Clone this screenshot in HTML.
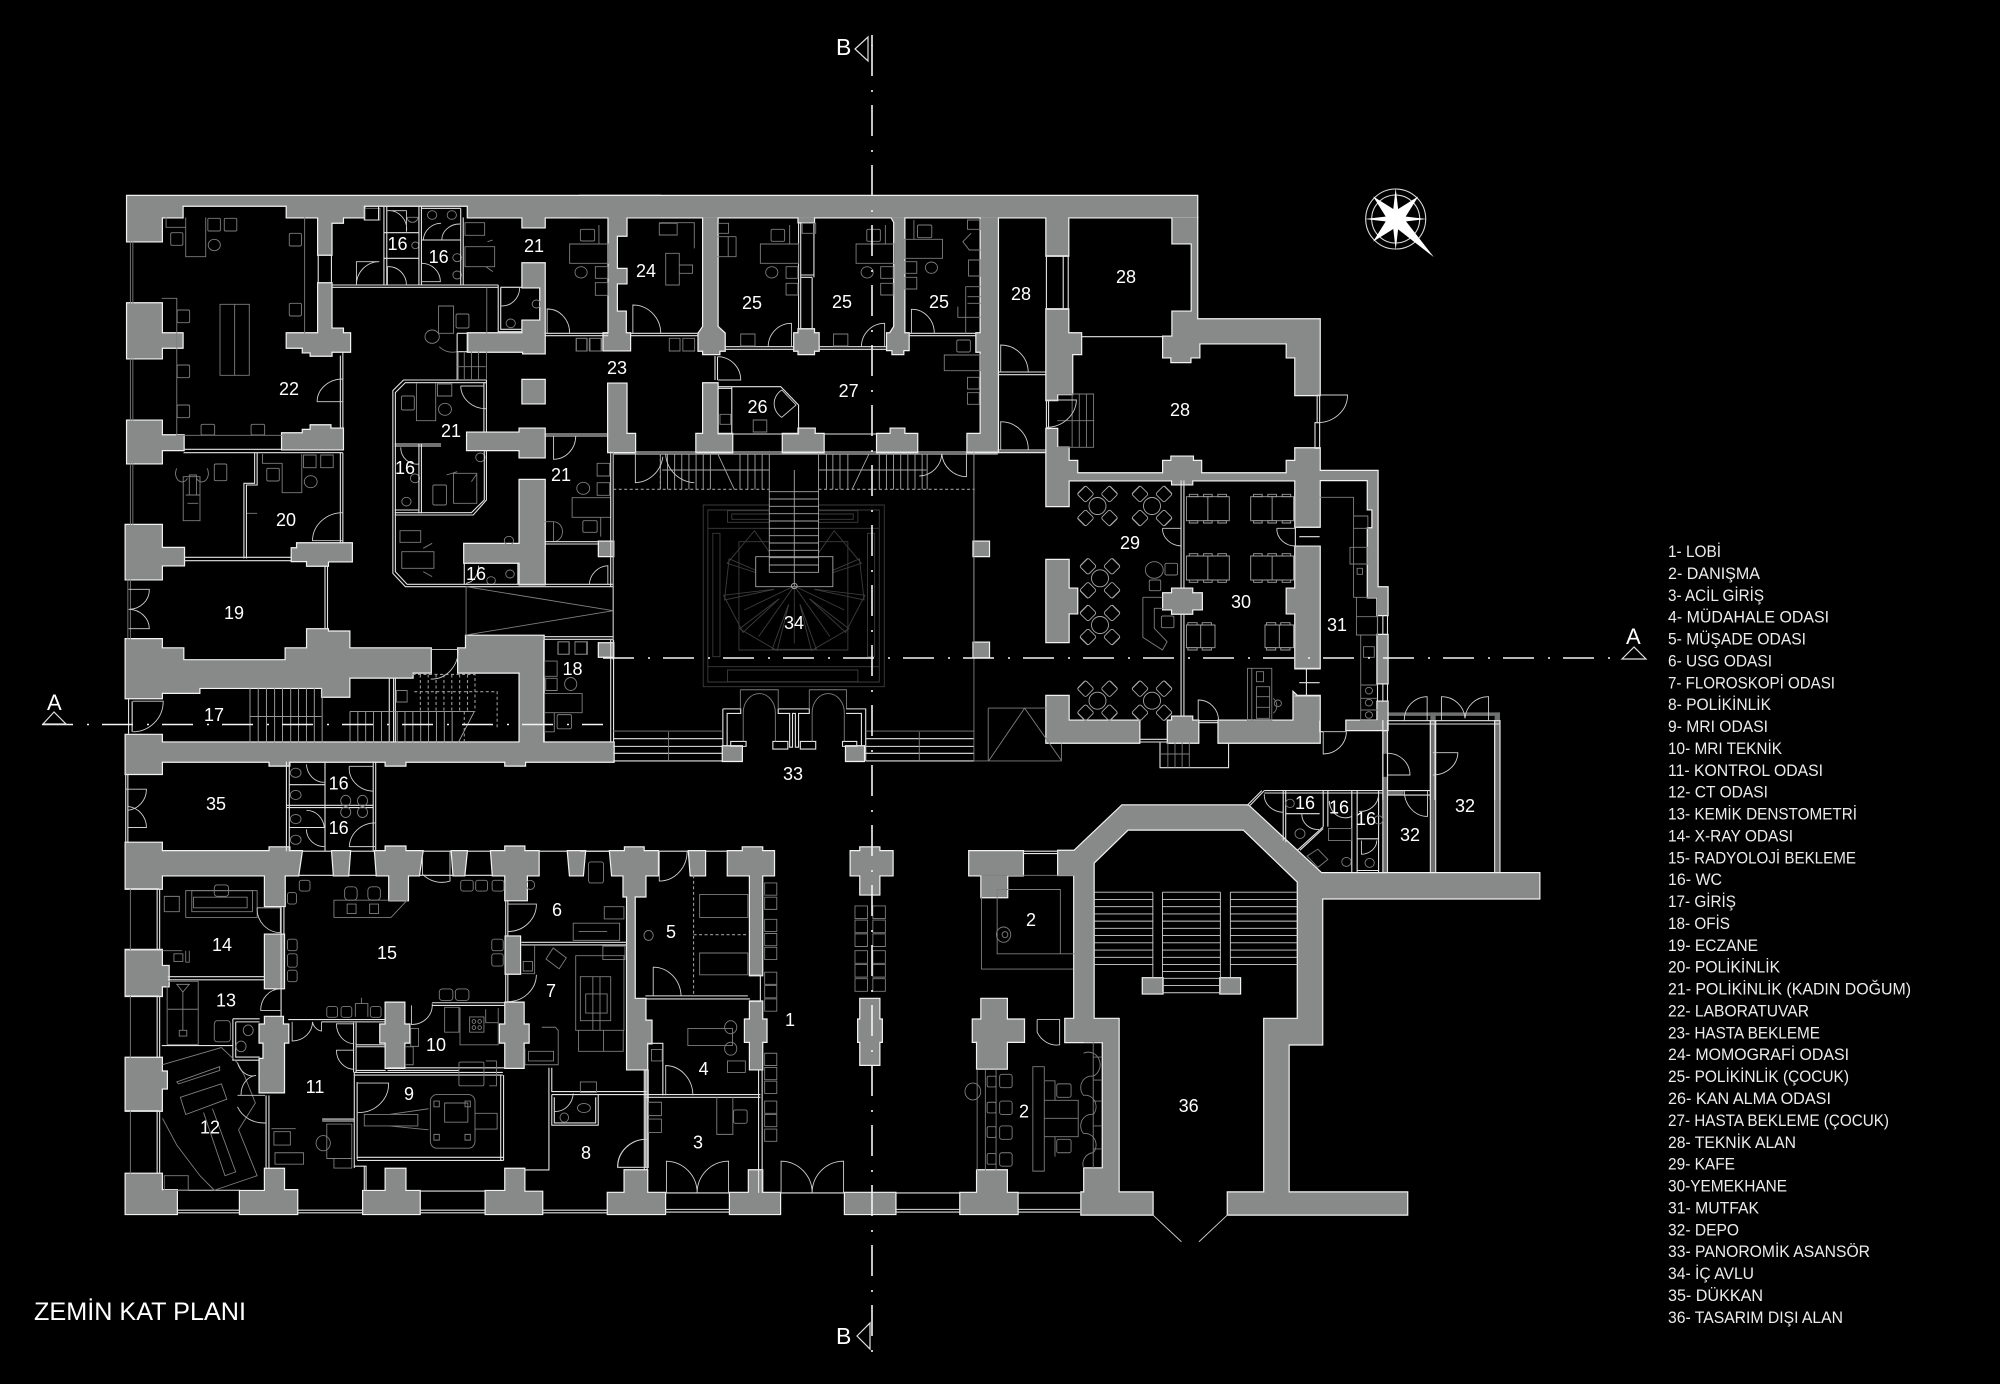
<!DOCTYPE html>
<html><head><meta charset="utf-8"><title>ZEMİN KAT PLANI</title>
<style>
html,body{margin:0;padding:0;background:#000}
svg{display:block}
*{vector-effect:non-scaling-stroke}
.t{fill:none;stroke:#e4e4e4;stroke-width:1.1}
.f{fill:none;stroke:#7e7e7e;stroke-width:.9}
.d{fill:none;stroke:#cfcfcf;stroke-width:.9}
.q{fill:none;stroke:#3c3c3c;stroke-width:.9}
.x{fill:none;stroke:#9a9a9a;stroke-width:1.1;stroke-dasharray:3 2.5}
text{font-family:"Liberation Sans","DejaVu Sans",sans-serif;fill:#fff}
.r text{font-size:18px;text-anchor:middle}
.l text{font-size:16.4px;fill:#ececec}
</style></head><body>
<svg xmlns="http://www.w3.org/2000/svg" width="2000" height="1384" viewBox="0 0 2000 1384">
<rect width="2000" height="1384" fill="#000"/>
<defs>
<g id="walls">
<g transform="translate(100 170) scale(.35714 .33333)">
<polygon points="76,78 1568,78 1568,142 1245,142 1245,172 1183,172 1183,142 1030,142 1030,107 740,107 740,142 680,142 680,158 648,158 648,254 611,254 611,142 523,142 523,107 231,107 231,142 173,142 173,214 76,214"/>
<polygon points="611,340 648,340 648,476 680,476 680,490 700,490 700,545 648,545 648,557 590,557 590,547 568,547 568,533 523,533 523,490 611,490"/>
<polygon points="76,400 173,400 173,490 231,490 231,533 173,533 173,565 76,565"/>
<polygon points="76,752 173,752 173,796 234,796 234,840 173,840 173,880 76,880"/>
<polygon points="510,790 568,790 568,780 590,780 590,766 645,766 645,776 680,776 680,838 510,838"/>
<polygon points="72,1065 173,1065 173,1134 235,1134 235,1186 173,1186 173,1228 72,1228"/>
<polygon points="552,1120 705,1120 705,1174 638,1174 638,1187 580,1187 580,1173 537,1173 537,1135 552,1135"/>
<polygon points="1030,490 1183,490 1183,452 1233,452 1233,352 1183,352 1183,280 1245,280 1245,550 1185,550 1185,545 1030,545"/>
<polygon points="1183,630 1245,630 1245,700 1183,700"/>
<polygon points="1028,788 1175,788 1175,776 1245,776 1245,862 1175,862 1175,840 1028,840"/>
<polygon points="1175,930 1245,930 1245,1243 1175,1243 1175,1178 1020,1178 1020,1122 1175,1122"/>
<polygon points="1397,1115 1437,1115 1437,1158 1397,1158"/>
<polygon points="1397,1420 1437,1420 1437,1460 1397,1460"/>
</g>
<g transform="translate(580 170) scale(.35714 .33333)">
<polygon points="0,78 1728,78 1728,142 1367,142 1367,257 1306,257 1306,142 0,142"/>
<polygon points="80,142 80,490 66,490 66,541 140,541 140,490 128,490 128,425 103,425 103,340 130,340 130,297 103,297 103,197 130,197 130,142"/>
<polygon points="345,142 345,470 332,490 332,542 345,542 345,552 390,552 390,542 405,542 405,490 385,470 385,142"/>
<polygon points="612,142 612,157 655,157 655,142"/>
<polygon points="612,478 655,478 655,490 668,490 668,542 655,542 655,552 612,552 612,542 600,542 600,490 612,490"/>
<polygon points="872,142 880,157 880,470 868,490 860,490 860,540 875,540 875,552 905,552 905,540 920,540 920,490 908,490 908,142"/>
<polygon points="1122,142 1122,490 1110,490 1110,545 1122,545 1122,792 1085,792 1085,846 1170,846 1170,142"/>
<polygon points="1306,418 1367,418 1367,490 1403,490 1403,552 1378,552 1378,672 1336,672 1336,690 1306,690"/>
<polygon points="79,641 130,641 130,792 154,792 154,846 79,846"/>
<polygon points="345,640 385,640 385,792 426,792 426,846 326,846 326,792 345,792"/>
<polygon points="568,792 612,792 612,776 657,776 657,792 682,792 682,846 568,846"/>
<polygon points="832,792 870,792 870,776 908,776 908,792 944,792 944,846 832,846"/>
<polygon points="1102,1115 1145,1115 1145,1158 1102,1158"/>
<polygon points="1102,1418 1145,1418 1145,1462 1102,1462"/>
</g>
<g transform="translate(1000 300) scale(.35714 .33333)">
<polygon points="483,-247 552,-247 552,58 895,58 895,285 827,285 827,172 803,172 803,130 558,130 558,172 533,172 533,186 480,186 480,172 457,172 457,110 483,110 483,35 537,35 537,-170 483,-170"/>
<polygon points="827,445 895,445 895,513 1057,513 1057,862 1085,862 1085,945 1057,945 1057,892 1030,892 1030,685 1043,685 1043,628 1030,628 1030,540 895,540 895,680 827,680 827,541 538,541 538,553 482,553 482,541 192,541 192,618 130,618 130,387 160,387 160,443 192,443 192,483 216,483 216,520 457,520 457,483 480,483 480,470 540,470 540,483 563,483 563,520 803,520 803,483 827,483"/>
<polygon points="130,780 192,780 192,866 216,866 216,940 192,940 192,1026 130,1026"/>
<polygon points="457,880 482,880 482,866 538,866 538,880 565,880 565,928 538,928 538,941 482,941 482,928 457,928"/>
<polygon points="803,866 827,866 827,740 895,740 895,1105 827,1105 827,940 803,940"/>
<polygon points="130,1188 192,1188 192,1262 390,1262 390,1328 130,1328"/>
<polygon points="470,1262 482,1262 482,1250 538,1250 538,1262 555,1262 555,1328 470,1328"/>
<polygon points="612,1262 822,1262 822,1178 832,1188 895,1188 895,1328 612,1328"/>
<polygon points="1057,1005 1085,1005 1085,1150 1057,1150"/>
<polygon points="1057,1205 1085,1205 1085,1290 970,1290 970,1262 1057,1262"/>
</g>
<g transform="translate(100 640) scale(.35714 .38265)">
<polygon points="72,-2 173,-2 173,22 233,22 233,53 520,53 520,22 580,22 580,-28 638,-28 638,-22 698,-22 698,22 926,22 926,85 875,85 875,98 698,98 698,148 622,148 622,125 278,125 278,138 173,138 173,152 72,152"/>
<polygon points="1003,22 1025,22 1025,-11 1242,-11 1242,268 1175,268 1175,85 1003,85"/>
<polygon points="72,248 173,248 173,268 1438,268 1438,318 1190,318 1190,328 1135,328 1135,318 855,318 855,328 800,328 800,318 530,318 530,328 475,328 475,318 173,318 173,350 72,350"/>
<polygon points="72,530 173,530 173,552 475,552 475,542 530,542 530,552 565,552 555,615 517,615 517,695 462,695 462,615 173,615 173,650 72,650"/>
<polygon points="650,552 700,552 695,615 655,615"/>
<polygon points="770,552 800,552 800,540 855,540 855,552 903,552 893,615 862,615 862,680 810,680 810,615 775,615"/>
<polygon points="985,552 1027,552 1020,615 990,615"/>
<polygon points="1095,552 1135,552 1135,540 1188,540 1188,552 1228,552 1228,615 1195,615 1195,680 1135,680 1135,615 1100,615"/>
<polygon points="1310,552 1358,552 1352,615 1316,615"/>
<polygon points="72,1395 173,1395 173,1438 215,1438 215,1500 72,1500"/>
<polygon points="392,1440 462,1440 462,1382 515,1382 515,1438 552,1438 552,1500 392,1500"/>
<polygon points="737,1440 800,1440 800,1382 855,1382 855,1440 895,1440 895,1500 737,1500"/>
<polygon points="1080,1440 1135,1440 1135,1382 1188,1382 1188,1442 1238,1442 1238,1500 1080,1500"/>
<polygon points="72,810 173,810 173,852 192,852 192,905 173,905 173,930 72,930"/>
<polygon points="72,1092 173,1092 173,1128 187,1128 187,1172 173,1172 173,1230 72,1230"/>
<polygon points="462,770 515,770 515,910 462,910"/>
<polygon points="1136,775 1176,775 1176,872 1136,872"/>
<polygon points="447,1005 462,1005 462,985 512,985 512,1005 527,1005 527,1052 515,1052 515,1182 447,1182 447,1095 458,1095 458,1052 447,1052"/>
<polygon points="800,948 852,948 852,1005 866,1005 866,1052 852,1052 852,1118 800,1118 800,1052 785,1052 785,1005 800,1005"/>
<polygon points="1135,948 1186,948 1186,1005 1200,1005 1200,1052 1186,1052 1186,1118 1135,1118 1135,1052 1120,1052 1120,1005 1135,1005"/>
</g>
<g transform="translate(580 640) scale(.35714 .38265)">
<polygon points="84,552 126,552 126,542 178,542 178,552 218,552 218,615 183,615 183,670 153,670 153,938 183,938 183,995 200,995 200,1054 188,1054 188,1122 132,1122 132,670 122,670 122,615 90,615"/>
<polygon points="305,552 350,552 350,615 310,615"/>
<polygon points="414,552 456,552 456,542 510,542 510,552 543,552 543,615 510,615 510,876 476,876 476,615 414,615"/>
<polygon points="476,945 510,945 510,992 522,992 522,1050 510,1050 510,1122 476,1122 476,1050 462,1050 462,992 476,992"/>
<polygon points="758,552 785,552 785,542 838,542 838,552 875,552 875,615 838,615 838,665 785,665 785,615 758,615"/>
<polygon points="785,938 838,938 838,992 845,992 845,1050 838,1050 838,1110 785,1110 785,1050 779,1050 779,992 785,992"/>
<polygon points="1090,552 1240,552 1240,615 1196,615 1196,672 1124,672 1124,615 1090,615"/>
<polygon points="1124,938 1195,938 1195,992 1243,992 1243,1050 1195,1050 1195,1120 1112,1120 1112,1050 1100,1050 1100,992 1124,992"/>
<polygon points="78,1445 125,1445 125,1386 188,1386 188,1445 238,1445 238,1500 78,1500"/>
<polygon points="420,1445 473,1445 473,1386 510,1386 510,1445 560,1445 560,1500 420,1500"/>
<polygon points="742,1445 883,1445 883,1500 742,1500"/>
<polygon points="1065,1445 1112,1445 1112,1386 1195,1386 1195,1445 1225,1445 1225,1500 1065,1500"/>
<polygon points="400,278 453,278 453,316 400,316"/>
<polygon points="745,278 795,278 795,316 745,316"/>
</g>
<g transform="translate(1000 720) scale(.35714 .34439)">
<polygon points="163,380 208,380 342,248 695,248 900,445 1510,445 1510,518 902,518 902,942 808,942 808,1372 1140,1372 1140,1436 638,1436 638,1372 740,1372 740,868 834,868 834,470 682,318 358,318 262,415 262,868 332,868 332,1372 427,1372 427,1436 228,1436 228,1372 236,1372 236,1302 288,1302 288,935 183,935 183,868 208,868 208,450 163,450"/>
<polygon points="400,750 455,750 455,794 400,794"/>
<polygon points="617,750 672,750 672,794 617,794"/>
</g>
</g>
<g id="cafe" class="f" style="stroke:#a8a8a8">
<circle r="8.5"/>
<g><rect x="-18" y="-18" width="12" height="12" rx="2" transform="rotate(45 -12 -12)"/><rect x="6" y="-18" width="12" height="12" rx="2" transform="rotate(45 12 -12)"/><rect x="-18" y="6" width="12" height="12" rx="2" transform="rotate(45 -12 12)"/><rect x="6" y="6" width="12" height="12" rx="2" transform="rotate(45 12 12)"/>
<path d="M-20,-12 L-12,-20 M12,-20 L20,-12 M20,12 L12,20 M-12,20 L-20,12"/></g>
</g>
<g id="tb3" class="f" style="stroke:#a0a0a0"><rect x="0" y="15" width="120" height="72"/><path d="M60,15V87M8,8h24v7h-24zM48,8h24v7h-24zM88,8h24v7h-24zM8,87h24v7h-24zM48,87h24v7h-24zM88,87h24v7h-24z"/></g>
<g id="tb2" class="f" style="stroke:#a0a0a0"><rect x="0" y="15" width="80" height="68"/><path d="M40,15V83M4,8h26v7h-26zM44,8h26v7h-26zM4,83h26v7h-26zM44,83h26v7h-26z"/></g>
<path id="bl" d="M-16,55 L-62,190 L62,190 L16,55"/>
</defs>

<!-- Details beneath walls -->
<g transform="translate(580 170) scale(.35714 .33333)">
<g class="q">
<path d="M345,1005H852V1550H345Z M358,1020H838V1536H358Z M413,1022H778V1057H413Z M425,1032H765V1048H425Z M413,1500H778V1535H413Z M372,1090H392V1460H372Z M805,1090H825V1460H805Z M358,1075H838 M358,1490H838 M445,1115H750V1440H445Z"/>
<g transform="translate(600 1248)"><use href="#bl" transform="rotate(0)"/><use href="#bl" transform="rotate(32)"/><use href="#bl" transform="rotate(64)"/><use href="#bl" transform="rotate(96)"/><use href="#bl" transform="rotate(128)"/><use href="#bl" transform="rotate(-32)"/><use href="#bl" transform="rotate(-64)"/><use href="#bl" transform="rotate(-96)"/><use href="#bl" transform="rotate(-128)"/></g>
<path d="M600,1248L600,1420M600,1248L700,1400M600,1248L500,1400M600,1248L740,1320M600,1248L460,1320"/>
<path fill="#000" stroke="none" d="M530,965H668V1160H708V1250H492V1160H530Z"/>
</g>
</g>

<!-- Depot gray thin walls -->
<g transform="translate(1000 720) scale(.35714 .34439)" fill="#6f7170">
<rect x="1205" y="-22" width="15" height="467"/><rect x="1385" y="-22" width="15" height="467"/><rect x="1072" y="-22" width="13" height="120"/><rect x="1072" y="165" width="13" height="280"/><rect x="1085" y="-22" width="315" height="10"/><rect x="1085" y="205" width="45" height="13"/>
</g>

<use href="#walls" fill="#fff" stroke="#f2f2f2" stroke-width="2.4"/>
<use href="#walls" fill="#888a89"/>

<!-- Zone 1 -->
<g transform="translate(100 170) scale(.35714 .33333)">
<g class="f">
<path d="M240,142V260H296V142M173,385H215V796H510M573,142V490M185,142V172H240"/>
<rect x="302" y="145" width="35" height="38" rx="3"/><rect x="348" y="145" width="35" height="38" rx="3"/><circle cx="320" cy="225" r="17"/>
<rect x="198" y="188" width="34" height="38" rx="4"/><rect x="530" y="190" width="34" height="38" rx="4"/><rect x="530" y="400" width="34" height="38" rx="4"/><rect x="216" y="420" width="35" height="38" rx="4"/><rect x="216" y="585" width="35" height="38" rx="4"/><rect x="216" y="705" width="35" height="38" rx="4"/><rect x="283" y="763" width="38" height="32" rx="4"/><rect x="423" y="763" width="38" height="32" rx="4"/>
<rect x="336" y="403" width="82" height="213"/><path d="M377,403V616"/>
<rect x="320" y="882" width="35" height="50" rx="4"/><path d="M233,920H280V1052H233Z M215,895a18,25 0 1 0 30,30M300,895a18,25 0 1 1 -30,30M250,915h20v60h-20z M240,975h40M245,1000h30"/>
<path d="M455,852V880H510V968H565V852"/><rect x="570" y="855" width="35" height="38"/><rect x="618" y="855" width="35" height="38"/><rect x="467" y="895" width="35" height="38" rx="4"/><circle cx="590" cy="935" r="18"/><path d="M410,945V1030H440"/>
<rect x="742" y="115" width="42" height="35"/><path d="M860,142 a15 15 0 1 0 30 0z"/><circle cx="930" cy="135" r="13"/><circle cx="985" cy="135" r="13"/><circle cx="883" cy="226" r="10"/><circle cx="1000" cy="263" r="12"/><circle cx="1000" cy="315" r="12"/>
<rect x="1022" y="158" width="55" height="38"/><path d="M1022,230H1105V290H1022Z M1085,215L1100,210M1080,290L1100,305"/>
<rect x="1345" y="178" width="40" height="35" rx="4"/><path d="M1315,222H1423V280H1315Z M1397,165V222"/><circle cx="1347" cy="307" r="17"/><rect x="1387" y="290" width="35" height="35"/><rect x="1387" y="338" width="35" height="38"/>
<circle cx="1222" cy="402" r="12"/><circle cx="1150" cy="460" r="13"/>
<path d="M948,408H990V490H948Z"/><rect x="997" y="432" width="36" height="42" rx="4"/><circle cx="930" cy="500" r="20"/><path d="M950,530 a50 50 0 0 0 50 15"/>
<rect x="1333" y="505" width="30" height="38"/><rect x="1370" y="505" width="33" height="38"/>
<path d="M886,640V752H940V640"/><rect x="945" y="642" width="40" height="36"/><rect x="844" y="678" width="36" height="42" rx="4"/><circle cx="966" cy="718" r="18"/>
<path d="M990,910H1055V1000H990Z M970,915L1000,905M1055,912L1040,935"/><rect x="932" y="945" width="38" height="60" rx="4"/><circle cx="1065" cy="862" r="13"/><circle cx="882" cy="925" r="13"/><circle cx="858" cy="995" r="13"/>
<rect x="840" y="1082" width="58" height="35"/><path d="M845,1145H935V1195H845Z M905,1135L930,1120M905,1205L930,1220"/><circle cx="1145" cy="1112" r="13"/><circle cx="1095" cy="1232" r="12"/><circle cx="1148" cy="1212" r="12"/>
<rect x="1392" y="880" width="35" height="38"/><rect x="1392" y="938" width="35" height="38"/><circle cx="1353" cy="955" r="18"/><path d="M1322,983H1430V1042H1322Z M1402,1042V1100"/><rect x="1352" y="1052" width="40" height="35" rx="4"/>
<path d="M1245,1055H1270V1115 M1270,1055 a25 30 0 0 1 0 60"/>
<rect x="1283" y="1415" width="30" height="38"/><rect x="1330" y="1415" width="35" height="38"/>
</g>
<g class="t">
<path d="M648,345H1115M648,352H1115M795,107V345M803,107V345M893,107V345M900,107V345M1010,115V345M1017,142V345M795,188H893M795,265H893M900,210H1010M900,115H1010M740,107V150H780V107"/>
<path d="M1115,345V485H1183M1122,352V478H1183M1122,352H1183"/>
<path d="M1000,490V630M1030,490V545M1000,490H1030M1000,545H1030"/>
<path d="M1082,630H850L820,662V1210L855,1250H1437M1082,638H855L827,668V1205L860,1243H1437M1082,630V788M1075,638V788M1082,840V990L1045,1035H825M1076,840V990L1040,1028H825"/>
<path d="M825,822H955M825,828H955M893,822V1030M900,822V1030M825,1020H893"/>
<path d="M1245,490H1423M1245,497H1423M1245,792H1423M1245,798H1423M1430,845V1250M1437,845V1470M1245,1115H1397M1245,1122H1397"/>
<path d="M630,1187V1378M637,1187V1378"/>
<path d="M234,838H510M234,848H680M673,557V776M680,548V776"/>
<path d="M235,1162H537M235,1172H537M673,848V1120M680,848V1120M403,1165V940H433V848M410,1165V945H440V848"/>
<path d="M1020,1180V1243M1170,1180V1243M1242,1400H1437M1242,1408H1437M611,254V340M648,254V340"/>
</g>
<g class="f">
<path d="M85,214V400M92,214V400M85,565V752M92,565V752M85,880V1065M92,880V1065M78,1228V1408M85,1228V1408"/>
<path d="M1083,352V490M1000,630M1003,545V630M1020,545V630M1040,545V630M1060,545V630M1082,545V630M1000,590H1080M1025,1250L1437,1322L1025,1395V1250"/>
</g>
<g class="d">
<path d="M680,695H608A72 68 0 0 1 680 627M680,1112H595A85 85 0 0 1 680 1028M80,1258H138A58 58 0 0 1 80 1318M80,1376H138A58 58 0 0 0 80 1318"/>
<path d="M718,345V275H782A64 70 0 0 0 718 345M805,122A50 55 0 0 1 858 185V122ZM805,290A50 55 0 0 1 858 345H805ZM905,210A50 55 0 0 1 955 160M1008,162A50 48 0 0 0 957 210M900,280A52 55 0 0 1 953 335H900Z"/>
<path d="M1122,408V352H1175A50 55 0 0 1 1122 408M1252,490V417A62 72 0 0 1 1315 490M1270,798V868A62 70 0 0 0 1332 798M1010,648H1075M1010,648A70 70 0 0 0 1082 716M842,832A45 50 0 0 0 893 882M1370,1245A55 60 0 0 1 1422 1187V1245M1060,1187A40 50 0 0 1 1025 1240"/>
</g>
</g>

<!-- Zone 2 -->
<g transform="translate(580 170) scale(.35714 .33333)">
<g class="t">
<path d="M405,530H600M405,538H600M668,530H860M668,538H860M920,490H1110M920,497H1110M140,490H332M140,497H332"/>
<path d="M612,157V478M618,157V478M650,322V478M655,157V322M618,322H650M618,315H655"/>
<path d="M378,558V630M385,560V630M385,650H425M385,655H425M425,650V790M385,792H612V705M425,650H562L612,705"/>
<path d="M426,792H568M682,792H832M154,846H1306M93,852H1170M1170,606H1306M1170,614H1306M1170,840H1306M1170,848H1306"/>
<path d="M1306,257V418M1353,257V418M1367,257V418M1306,257H1367M1306,418H1367M1306,690V778M1312,690V778"/>
</g>
<g class="f">
<path d="M222,158H320V235M240,250H278V345H240ZM278,285H315V310H278Z"/><rect x="222" y="160" width="50" height="35"/>
<path d="M505,222H612V280H505ZM587,165V222"/><rect x="535" y="178" width="38" height="36" rx="4"/><circle cx="537" cy="307" r="17"/><rect x="577" y="290" width="33" height="35"/><rect x="577" y="340" width="33" height="35"/>
<path d="M773,222H880V280H773ZM855,165V222"/><rect x="803" y="178" width="38" height="36" rx="4"/><circle cx="804" cy="307" r="17"/><rect x="842" y="290" width="35" height="35"/><rect x="842" y="340" width="35" height="35"/>
<path d="M908,208H1015V265H908ZM935,150V208"/><rect x="945" y="165" width="40" height="38" rx="4"/><circle cx="984" cy="293" r="17"/><rect x="908" y="275" width="35" height="35"/><rect x="908" y="322" width="35" height="35"/><path d="M1088,270H1122V318H1088ZM1080,350V490M1058,410V442H1122M1080,350H1122M1085,380H1122M1085,400H1122"/>
<path d="M1085,150H1122V178H1085ZM1095,190L1072,215L1090,240H1122"/>
<path d="M385,200H437M385,260H437V200M415,200V260"/><rect x="388" y="160" width="28" height="30"/>
<rect x="622" y="160" width="38" height="30"/>
<rect x="450" y="492" width="40" height="36"/><rect x="710" y="492" width="40" height="36"/>
<rect x="250" y="505" width="30" height="38"/><rect x="288" y="505" width="33" height="38"/><rect x="-10" y="505" width="30" height="38"/><rect x="28" y="505" width="33" height="38"/>
<path d="M1020,555H1122V602H1020Z"/><rect x="1055" y="510" width="38" height="36" rx="4"/><rect x="1085" y="622" width="33" height="35"/><rect x="1085" y="668" width="33" height="35"/>
<rect x="485" y="750" width="38" height="36"/><rect x="392" y="733" width="30" height="30"/>
<path d="M1336,672H1438V832H1336M1378,672V832M1398,672V832M1418,672V832M1336,752H1440"/>
</g>
<g class="f" style="stroke:#a6a6a6">
<path d="M230,900H530M668,900H970M600,900V1248M225,850V958M245,850V958M265,850V958M285,850V958M305,850V958M325,850V958M345,850V958M365,850V958M448,850V958M470,850V958M490,850V958M510,850V958M530,850V1208M668,850V1208M690,850V958M708,850V958M728,850V958M750,850V958M838,850V958M858,850V958M878,850V958M898,850V958M918,850V958M938,850V958M958,850V958M972,850V958"/>
<path d="M385,850L432,958M810,850L762,958M530,965H668M530,987H668M530,1009H668M530,1031H668M530,1053H668M530,1075H668M530,1097H668M530,1119H668M530,1141H668M530,1163H668M530,1185H668M530,1207H668M492,1160H708V1250H492Z"/>
<circle cx="600" cy="1248" r="8"/>
<path d="M1103,846V1465M93,846V1465"/>
</g>
<path class="x" d="M93,958H530M668,958H1105M225,850V958"/>
<g class="d">
<path d="M148,490V405A78 85 0 0 1 226 490M592,530V460A65 70 0 0 0 527 530M853,530V460A65 70 0 0 0 788 530M928,490V418A62 72 0 0 1 992 490"/>
<path d="M385,560A65 70 0 0 1 450 630H385M565,660L605,705L565,742A50 50 0 0 1 565 660"/>
<path d="M155,846V938A80 90 0 0 0 232 860M1082,846V920A70 75 0 0 1 1013 850M320,938A85 90 0 0 1 240 850M950,918A65 70 0 0 0 1013 850"/>
<path d="M1178,606V525A77 82 0 0 1 1255 606M1178,840V755A77 82 0 0 1 1255 840M1306,690H1390A85 85 0 0 1 1306 772"/>
</g>
</g>

<!-- Zone 3 -->
<g transform="translate(1000 300) scale(.35714 .33333)">
<g class="t">
<path d="M227,110H457M507,541V866M515,541V866M507,941V1250M515,941V1250M888,285V368M895,285V368M888,368H895V445H882V368Z"/>
<path d="M827,680V740M833,682H895M833,738H895M838,710H895M825,1105H895M825,1188H895M838,1148H895M858,1105V1188"/>
<path d="M555,1262H612M555,1268H612M390,1318H470M390,1326H470M448,1328V1403H640V1328M895,1262V1295H905M1057,945V1005M1072,945V1005M1085,945V1005M1057,1150V1205M1072,1150V1205M1085,1150V1205"/>
<path d="M1072,1262V1500M1085,1262V1500M1205,1262V1500M1218,1262V1500M1385,1262V1500M1400,1262V1500M1085,1262H1400M1085,1272H1400"/>
</g>
<g class="f">
<path d="M470,1328V1403M490,1328V1403M510,1328V1403M530,1328V1403M448,1362H530"/>
<path d="M895,592H990V892H1030M990,648H1030V685H990ZM980,742H1030V792H980ZM998,892H1057V1005H998ZM998,950H1057M1010,1005V1262H1057M1010,1155H1057M1010,1195H1057M1010,1230H1057"/>
<rect x="1000" y="805" width="15" height="18"/><circle cx="1033" cy="1172" r="10"/><circle cx="1033" cy="1208" r="10"/><circle cx="1033" cy="1245" r="10"/><rect x="1018" y="1040" width="30" height="32"/>
<circle cx="432" cy="810" r="25"/><rect x="462" y="790" width="35" height="35" rx="4"/><rect x="418" y="840" width="32" height="32" rx="4"/><path d="M400,892H455M400,892V1012L455,1050L468,1025L432,985V925H457"/><rect x="452" y="948" width="35" height="35" rx="4"/>
<rect x="693" y="1105" width="68" height="157"/><path d="M705,1105V1262M718,1160H755V1255H718ZM718,1190H755M718,1222H755M718,1115H738V1145H718ZM765,1195a30 30 0 0 1 0 45"/><circle cx="778" cy="1210" r="10"/>
</g>
<use href="#tb3" transform="translate(522 575)"/><use href="#tb3" transform="translate(702 575)"/><use href="#tb3" transform="translate(522 753)"/><use href="#tb3" transform="translate(702 753)"/><use href="#tb2" transform="translate(522 960)"/><use href="#tb2" transform="translate(742 960)"/>
<g class="d">
<path d="M888,368A85 82 0 0 0 973 285H888M455,685H507M455,685A55 52 0 0 0 507 738M775,685H827M775,685A52 52 0 0 0 827 738M555,1262V1200A56 62 0 0 1 612 1262M905,1295H970M905,1295V1362A65 68 0 0 0 970 1295"/>
<path d="M1196,1262V1190A65 70 0 0 0 1132 1262M1236,1262V1190A65 70 0 0 1 1302 1255M1368,1262V1190A65 70 0 0 0 1302 1255M1085,1360A62 65 0 0 1 1148 1425H1085M1212,1358H1282A70 68 0 0 1 1212 1425"/>
</g>
</g>
<use href="#cafe" x="1097.5" y="506"/><use href="#cafe" x="1152" y="506"/><use href="#cafe" x="1100" y="578.3"/><use href="#cafe" x="1100" y="625"/><use href="#cafe" x="1097.5" y="700.7"/><use href="#cafe" x="1152" y="700.7"/>

<!-- Zone 4 -->
<g transform="translate(100 640) scale(.35714 .38265)">
<g class="t">
<path d="M90,160V240M80,155V245M72,350V530M78,350V530M522,318V552M530,318V552M522,432H765M522,438H765M765,318V552M772,318V552M530,378H630M530,490H630M630,318V552"/>
<path d="M565,552H650M700,552H770M903,552H985M1027,552H1095M1228,552H1310M1358,552H1428M555,615H655M695,615H775M893,615H990M1020,615H1100"/>
<path d="M72,650H165M72,810H175M160,650V810M167,650V810M72,930H165M160,930V1092M167,930V1092M72,1230H165M160,1230V1395M167,1230V1395"/>
<path d="M190,880H462M190,888H462M173,1060H372M372,990V1098H447M380,998V1090H447M372,990H447M380,998H447"/>
<path d="M507,695V985M515,695V770M1136,680V775M1142,680V775M1136,872V948M1142,872V948M527,992H800M620,998H800"/>
<path d="M710,1000V1130M717,1000V1130M717,1058H800M717,1063H800M717,1125H800M712,1130H1128M712,1137H1128M720,1155V1358M712,1130V1380M720,1352H1130M720,1360H1130M1122,1137V1360M1130,1137V1360M712,1375H745V1440M740,1375V1440"/>
<path d="M930,948H1135M930,955H1135M805,1118H1135M805,1125H1005M465,1190V1380M473,1190V1380M622,1252H712M622,1257H712"/>
<path d="M1180,790H1475M1180,797H1475M1257,1118V1385H1190M1265,1118V1180H1530M1265,1188H1530M1265,1188V1268H1395V1188M1272,1195V1262H1388V1195M1528,1122V1380M1535,1122V1380"/>
<path d="M215,1438H392M215,1490H392M215,1497H392M552,1490H737M552,1497H737M895,1440H1080M895,1490H1080M895,1497H1080M1238,1490H1420M1238,1497H1420"/>
<path d="M810,98V268M822,98V268M827,98V268M1242,0V268M1430,0V268M1438,0V268"/>
</g>
<g class="f" style="stroke:#a6a6a6">
<path d="M420,125V268M443,125V268M466,125V268M489,125V268M511,125V268M534,125V268M556,125V268M578,125V268M600,125V268M622,125V268M420,200H620M700,187H1048L1003,268M700,187V268M722,187V268M744,187V268M766,187V268M788,187V268M810,187V268M832,187V268M854,187V268M876,187V268M898,187V268M920,187V268M942,187V268M964,187V268M986,187V268"/>
</g>
<path class="x" d="M875,90H1050V187M897,90V187M919,90V187M941,90V187M963,90V187M985,90V187M1007,90V187M1029,90V187M880,135H1112V230M1020,187V268"/>
<g class="f">
<rect x="830" y="132" width="30" height="30"/><path d="M85,650V810M85,930V1092M85,1230V1395"/>
<path d="M1245,55H1280V95H1245ZM1245,140H1350V190H1245ZM1245,190H1272V240H1245Z"/><rect x="1282" y="5" width="32" height="32"/><rect x="1330" y="5" width="32" height="32"/><rect x="1248" y="100" width="32" height="32"/><circle cx="1318" cy="115" r="17"/><rect x="1280" y="195" width="40" height="37" rx="4"/>
<ellipse cx="548" cy="347" rx="15" ry="12"/><ellipse cx="548" cy="405" rx="15" ry="12"/><ellipse cx="548" cy="468" rx="15" ry="12"/><ellipse cx="548" cy="522" rx="15" ry="12"/><circle cx="688" cy="420" r="14"/><circle cx="735" cy="420" r="14"/><circle cx="688" cy="450" r="14"/><circle cx="735" cy="450" r="14"/>
<rect x="558" y="628" width="30" height="28" rx="6"/><rect x="525" y="660" width="25" height="30" rx="6"/><rect x="1010" y="628" width="35" height="28" rx="6"/><rect x="1052" y="628" width="33" height="28" rx="6"/><rect x="1098" y="628" width="33" height="28" rx="6"/><rect x="525" y="782" width="27" height="30" rx="6"/><rect x="525" y="820" width="27" height="35" rx="6"/><rect x="525" y="863" width="27" height="30" rx="6"/><rect x="1097" y="782" width="32" height="30" rx="6"/><rect x="1097" y="820" width="32" height="32" rx="6"/><rect x="950" y="912" width="38" height="30" rx="8"/><rect x="995" y="912" width="38" height="30" rx="8"/><rect x="635" y="958" width="30" height="28" rx="6"/><rect x="675" y="958" width="30" height="28" rx="6"/><rect x="757" y="958" width="30" height="28" rx="6"/>
<path d="M655,680H860L815,725H655Z"/><rect x="685" y="645" width="35" height="35" rx="10"/><rect x="750" y="645" width="35" height="35" rx="10"/><rect x="692" y="690" width="25" height="25"/><rect x="755" y="690" width="25" height="25"/><path d="M715,985V950H750V985M732,950V935"/>
<rect x="240" y="655" width="200" height="70"/><rect x="257" y="655" width="170" height="55"/><rect x="262" y="672" width="150" height="28"/><rect x="180" y="670" width="42" height="40"/><rect x="320" y="640" width="40" height="30" rx="8"/>
<path d="M175,812H230M240,812V842M250,812V842H240"/><rect x="207" y="820" width="25" height="20"/>
<rect x="188" y="892" width="87" height="165"/><path d="M190,965H275M232,920L215,900H250ZM232,920V1020M222,1020H243V1035H222Z"/><rect x="320" y="995" width="45" height="55" rx="8"/>
<circle cx="415" cy="1020" r="14"/><circle cx="395" cy="1062" r="14"/>
<path d="M175,1110L340,1065L385,1105L405,1140L435,1210L388,1280L440,1400L320,1438M175,1250L215,1320L280,1400L320,1438M215,1155L335,1115V1125L220,1160ZM225,1195L340,1160L355,1200L240,1240ZM290,1235L350,1400L380,1390L315,1225M180,1400H247V1438H180Z"/>
<rect x="1408" y="800" width="62" height="35"/>
<rect x="1332" y="825" width="135" height="195"/><rect x="1345" y="880" width="85" height="115"/><rect x="1360" y="925" width="60" height="50"/><path d="M1340,1020V1075H1465V1020M1380,880V1020M1400,880V1020M1410,1020V1075"/><rect x="1255" y="815" width="45" height="35" transform="rotate(35 1278 832)"/>
<path d="M1190,1110H1283V1020L1275,1012H1237M1190,1068V1110M1200,1075H1270V1100H1200Z"/>
<rect x="1325" y="740" width="130" height="45"/><rect x="1412" y="697" width="55" height="32"/><circle cx="1205" cy="640" r="12"/><rect x="1368" y="580" width="42" height="55" rx="6"/><path d="M1340,762H1420"/>
<rect x="1185" y="840" width="26" height="25"/><path d="M1217,797V872H1180"/>
<path d="M1008,960V1058H1115V962M1080,965V1000H1115"/><rect x="965" y="960" width="40" height="65"/><rect x="1035" y="985" width="40" height="40"/><circle cx="1047" cy="997" r="5"/><circle cx="1063" cy="997" r="5"/><circle cx="1047" cy="1013" r="5"/><circle cx="1063" cy="1013" r="5"/><rect x="870" y="1015" width="22" height="47"/><rect x="855" y="1063" width="22" height="47"/>
<rect x="1005" y="1103" width="70" height="62" rx="4"/><path d="M1080,1100H1110V1165H1090"/>
<rect x="925" y="1188" width="125" height="140" rx="18"/><rect x="965" y="1210" width="65" height="50"/><path d="M1050,1237H1112V1278H1050M740,1240H890V1270H740ZM810,1240L920,1225M810,1270L920,1280"/><rect x="935" y="1205" width="15" height="15"/><rect x="1022" y="1205" width="15" height="15"/><rect x="935" y="1292" width="15" height="15"/><rect x="1022" y="1292" width="15" height="15"/>
<rect x="487" y="1285" width="46" height="35"/><path d="M480,1277H548M490,1340H570V1370H490Z"/><rect x="635" y="1265" width="70" height="90"/><circle cx="625" cy="1315" r="20"/><rect x="655" y="1355" width="50" height="25"/><circle cx="1300" cy="1248" r="12"/><ellipse cx="1355" cy="1223" rx="18" ry="12"/><rect x="1345" y="1155" width="45" height="28"/>
</g>
<g class="d">
<path d="M92,160H177A85 80 0 0 1 92 240M72,390H130A58 55 0 0 1 78 445M78,490H130A58 55 0 0 0 78 435"/>
<path d="M926,25H1003M1003,25A75 75 0 0 1 926 102"/>
<path d="M578,325A50 50 0 0 0 628 372M698,330H765M698,330A70 60 0 0 0 765 395M578,445A50 50 0 0 1 628 490M578,495A50 45 0 0 0 628 540M770,478A72 65 0 0 0 698 540H770"/>
<path d="M440,700A67 62 0 0 0 505 765V700H440M505,912A55 55 0 0 0 450 968H505M1142,690H1222A80 72 0 0 1 1142 762M1222,875A80 72 0 0 1 1142 945M903,555V612A75 70 0 0 0 980 630V552"/>
<path d="M538,998V1048A58 50 0 0 0 595 998M595,998A30 30 0 0 0 620 1022V998M712,1055A50 52 0 0 1 662 1003H712M712,1122A50 50 0 0 1 662 1072H712M722,1158H808A85 75 0 0 1 722 1235M872,955V1005A58 50 0 0 0 930 950"/>
<path d="M385,1190H462M385,1220A80 70 0 0 0 465 1262M395,1190A45 50 0 0 1 437 1138M385,1105A45 50 0 0 0 437 1138"/>
<path d="M1272,1232A50 50 0 0 0 1325 1185M1530,1305A80 72 0 0 0 1450 1378H1530"/>
</g>
</g>

<!-- Zone 5 -->
<g transform="translate(580 640) scale(.35714 .38265)">
<g class="t">
<path d="M400,180H450V192H412V278M400,180V278M555,180H642V192H612V280H603V192H595V280H587V192H555ZM745,180H800V316M745,192H788V278"/>
<path d="M422,265H465V278H422ZM540,265H582V285H540ZM617,265H660V285H617ZM735,265H775V278H735Z"/>
<path d="M93,258H400M93,278H400M93,296H400M93,316H400M800,258H1103M800,278H1103M800,296H1103M800,316H1103"/>
<path d="M218,552H305M350,552H414M0,552H84M183,930H470M183,938H476M476,876H505V945H476M183,1188H505M183,1195H505M188,1054H232V1190M180,1122V1386M188,1122V1386M500,1122V1445M510,1122V1445"/>
<path d="M238,1445H420M883,1445H1065M1225,1445H1400M238,1488H420M238,1495H420M883,1488H1065M883,1495H1065M1225,1488H1400M1225,1495H1400M560,1445H742M1240,552H1338M1240,558H1338"/>
</g>
<g class="f">
<path d="M93,238H400M800,238H1103M248,240V316M950,240V316M1103,316V0M449,130H555V180M449,130V180M642,130H746V180M642,130V180M457,265V190A45 50 0 0 1 547 190V265M650,265V190A45 50 0 0 1 740 190V265"/>
<path d="M1143,178H1306M1143,178V316M1245,178L1145,315M1245,178L1348,315M1103,316H1348V270"/>
<path d="M1124,672V860H1380M1168,652H1345V820H1168ZM1345,820H1385M1124,615H1384"/><circle cx="1186" cy="770" r="20"/><circle cx="1190" cy="770" r="8"/>
<path d="M1112,1122V1386M1135,1122V1386M1165,1122V1386M1268,1115H1300V1388H1268ZM1300,1203H1395V1298H1300ZM1300,1250H1395M1302,1152H1330V1203M1302,1298H1330V1350"/>
<rect x="1335" y="1160" width="40" height="35" rx="5"/><rect x="1335" y="1305" width="40" height="35" rx="5"/><rect x="1175" y="1135" width="35" height="35" rx="6"/><rect x="1175" y="1205" width="35" height="35" rx="6"/><rect x="1175" y="1270" width="35" height="35" rx="6"/><rect x="1175" y="1340" width="35" height="35" rx="6"/><rect x="1140" y="1140" width="25" height="28" rx="4"/><rect x="1140" y="1208" width="25" height="28" rx="4"/><rect x="1140" y="1272" width="25" height="28" rx="4"/><rect x="1140" y="1342" width="25" height="28" rx="4"/><circle cx="1100" cy="1180" r="22"/>
<path d="M1437,1050V1380M1462,1050H1410M1410,1080A30 30 0 0 1 1437 1140A30 30 0 0 0 1410 1190A30 30 0 0 1 1437 1240A30 30 0 0 0 1410 1290A30 30 0 0 1 1437 1340A30 30 0 0 0 1410 1380M1437,1090H1462M1437,1150H1462M1437,1205H1462M1437,1270H1462M1437,1330H1462"/>
<path d="M335,665H470V725H335ZM335,818H470V875H335Z"/>
<rect x="517" y="635" width="34" height="32"/><rect x="517" y="672" width="34" height="32"/><rect x="517" y="730" width="34" height="32"/><rect x="517" y="767" width="34" height="32"/><rect x="517" y="803" width="34" height="32"/><rect x="517" y="868" width="34" height="32"/><rect x="517" y="903" width="34" height="32"/><rect x="517" y="938" width="34" height="32"/><rect x="517" y="1080" width="34" height="32"/><rect x="517" y="1117" width="34" height="32"/><rect x="517" y="1153" width="34" height="32"/><rect x="517" y="1205" width="34" height="32"/><rect x="517" y="1240" width="34" height="32"/><rect x="517" y="1278" width="34" height="32"/>
<rect x="770" y="695" width="35" height="33"/><rect x="770" y="732" width="35" height="33"/><rect x="770" y="768" width="35" height="33"/><rect x="770" y="812" width="35" height="33"/><rect x="770" y="848" width="35" height="33"/><rect x="770" y="885" width="35" height="33"/><rect x="820" y="695" width="35" height="33"/><rect x="820" y="732" width="35" height="33"/><rect x="820" y="768" width="35" height="33"/><rect x="820" y="812" width="35" height="33"/><rect x="820" y="848" width="35" height="33"/><rect x="820" y="885" width="35" height="33"/>
<rect x="200" y="1070" width="30" height="30"/><rect x="302" y="1015" width="125" height="45"/><circle cx="422" cy="1012" r="17"/><circle cx="422" cy="1068" r="17"/><rect x="413" y="1100" width="50" height="30"/>
<path d="M383,1195V1292H428V1195"/><rect x="430" y="1228" width="38" height="35" rx="5"/><rect x="192" y="1208" width="36" height="35"/><rect x="192" y="1252" width="36" height="35"/><circle cx="192" cy="772" r="13"/>
</g>
<path class="x" d="M318,615V930M318,770H470"/>
<g class="d">
<path d="M222,552V630A78 78 0 0 0 300 552M205,930V855A78 78 0 0 1 283 930M240,1190V1112A78 78 0 0 1 316 1190M242,1445V1362A88 83 0 0 1 328 1445A88 83 0 0 1 416 1362V1445M563,1445V1362A88 83 0 0 1 650 1445A88 83 0 0 1 738 1362V1445M1280,992V1025A62 62 0 0 0 1343 1058V992H1280M188,1305A80 72 0 0 0 105 1378H188"/>
</g>
</g>

<!-- Zone 6 -->
<g transform="translate(1000 720) scale(.35714 .34439)">
<g class="t">
<path d="M1072,0V445M1085,0V445M1205,0V445M1220,0V445M1385,0V445M1400,0V445M1085,205H1205M1085,218H1205M740,205H1072M740,212H1072M692,248L733,205M700,248L740,205M793,205V350M800,205V355M800,272H895M833,378L905,310M840,378L905,315M905,205V310M918,205V310M985,205V445M1000,205V445M1060,205V445M1072,205V445M1000,345H1060M1000,437H1060"/>
</g>
<g class="f" style="stroke:#d0d0d0">
<path d="M262,500H428M262,521H428M262,542H428M262,563H428M262,584H428M262,605H428M262,626H428M262,647H428M262,668H428M262,689H428M262,710H428M645,500H834M645,521H834M645,542H834M645,563H834M645,584H834M645,605H834M645,626H834M645,647H834M645,668H834M645,689H834M645,710H834M455,500H617M455,521H617M455,542H617M455,563H617M455,584H617M455,605H617M455,626H617M455,647H617M455,668H617M455,689H617M455,710H617M455,730H617M455,750H617M455,771H617M455,792H617M428,500V750M455,500V790M617,500V790M645,500V750"/>
</g>
<g class="f">
<circle cx="812" cy="242" r="12"/><circle cx="840" cy="330" r="14"/><circle cx="970" cy="412" r="13"/><circle cx="1035" cy="415" r="13"/><circle cx="1060" cy="290" r="12"/>
<path d="M920,315H985V350H920ZM860,395L890,375L918,405L890,428Z"/>
</g>
<g class="d">
<path d="M427,1436L508,1515M638,1436L557,1515M1132,205A65 75 0 0 0 1197 280V205M740,215A55 50 0 0 0 793 268M845,272A45 45 0 0 0 893 318M922,235A45 50 0 0 0 985 280M1060,215A50 50 0 0 1 1005 265M1012,350V390A45 40 0 0 0 1055 350"/>
</g>
</g>

<!-- Section lines -->
<g fill="none" stroke="#f4f4f4" stroke-width="1.6" style="stroke-dasharray:31 14 2 13">
<line x1="42" y1="724.5" x2="603" y2="724.5"/>
<line x1="603" y1="658" x2="1622" y2="658"/>
<line x1="872" y1="45" x2="872" y2="1352"/>
</g>
<line x1="872" y1="35" x2="872" y2="46" stroke="#f4f4f4" stroke-width="1.6"/>
<g fill="none" stroke="#e0e0e0" stroke-width="1.2">
<polygon points="855,49 868,37 868,61"/>
<polygon points="857,1336 870,1323 870,1349"/>
<polygon points="54,712 43,724 66,724"/>
<polygon points="1634,647 1622,659 1646,659"/>
</g>
<text x="836" y="55" style="font-size:23px">B</text>
<text x="836" y="1344" style="font-size:23px">B</text>
<text x="47" y="710" style="font-size:22px">A</text>
<text x="1626" y="644" style="font-size:22px">A</text>

<!-- Compass -->
<g transform="translate(1395.7 219)" stroke="none" fill="#fff">
<circle r="30" fill="none" stroke="#d8d8d8" stroke-width="1.1"/>
<circle r="24" fill="none" stroke="#d8d8d8" stroke-width="1.1"/>
<path d="M0,-31L3,-5L0,0L-3,-5Z"/><path d="M0,-31L3,-5L0,0L-3,-5Z" transform="rotate(90)"/><path d="M0,-31L3,-5L0,0L-3,-5Z" transform="rotate(180)"/><path d="M0,-31L3,-5L0,0L-3,-5Z" transform="rotate(270)"/>
<path d="M0,-32L6,-6L0,0L-6,-6Z" transform="rotate(45)"/><path d="M0,-32L6,-6L0,0L-6,-6Z" transform="rotate(225)"/><path d="M0,-32L6,-6L0,0L-6,-6Z" transform="rotate(315)"/>
<path d="M0,-54L6,-6L0,0L-6,-6Z" transform="rotate(135)"/>
</g>

<!-- Room labels -->
<g class="r">
<text x="397.5" y="250">16</text><text x="438.6" y="263">16</text><text x="534" y="252">21</text><text x="646" y="277">24</text><text x="617" y="374">23</text><text x="289" y="395">22</text><text x="451" y="437">21</text><text x="561" y="481">21</text><text x="405" y="474">16</text><text x="286" y="526">20</text><text x="234" y="619">19</text><text x="476" y="580">16</text>
<text x="752" y="309">25</text><text x="842" y="308">25</text><text x="939" y="308">25</text><text x="1021" y="300">28</text><text x="1126" y="283">28</text><text x="757.5" y="413">26</text><text x="848.6" y="397">27</text><text x="1130" y="549">29</text><text x="794" y="629">34</text>
<text x="1180" y="416">28</text><text x="1241" y="608">30</text><text x="1337" y="631">31</text>
<text x="572.5" y="675">18</text><text x="214" y="721">17</text><text x="216" y="810">35</text><text x="338.6" y="789.5">16</text><text x="338.6" y="834">16</text><text x="557" y="916">6</text><text x="222" y="951">14</text><text x="387" y="959">15</text><text x="551" y="997">7</text><text x="226" y="1006.5">13</text><text x="436" y="1051">10</text><text x="315" y="1093">11</text><text x="409" y="1100">9</text><text x="210" y="1133.5">12</text><text x="586" y="1159">8</text>
<text x="793" y="780">33</text><text x="671" y="938">5</text><text x="1031" y="926">2</text><text x="790" y="1026">1</text><text x="703.6" y="1075">4</text><text x="1024" y="1117.5">2</text><text x="698" y="1148.5">3</text>
<text x="1305" y="809">16</text><text x="1339" y="813.5">16</text><text x="1366" y="825">16</text><text x="1465" y="812">32</text><text x="1410" y="841">32</text><text x="1188.6" y="1112">36</text>
</g>

<!-- Legend -->
<g class="l" lengthAdjust="spacingAndGlyphs">
<text x="1668" y="557" textLength="53" lengthAdjust="spacingAndGlyphs">1- LOBİ</text>
<text x="1668" y="578.9" textLength="92" lengthAdjust="spacingAndGlyphs">2- DANIŞMA</text>
<text x="1668" y="600.8" textLength="96" lengthAdjust="spacingAndGlyphs">3- ACİL GİRİŞ</text>
<text x="1668" y="622.6" textLength="161" lengthAdjust="spacingAndGlyphs">4- MÜDAHALE ODASI</text>
<text x="1668" y="644.5" textLength="138" lengthAdjust="spacingAndGlyphs">5- MÜŞADE ODASI</text>
<text x="1668" y="666.4" textLength="104" lengthAdjust="spacingAndGlyphs">6- USG ODASI</text>
<text x="1668" y="688.3" textLength="167" lengthAdjust="spacingAndGlyphs">7- FLOROSKOPİ ODASI</text>
<text x="1668" y="710.2" textLength="103" lengthAdjust="spacingAndGlyphs">8- POLİKİNLİK</text>
<text x="1668" y="732" textLength="100" lengthAdjust="spacingAndGlyphs">9- MRI ODASI</text>
<text x="1668" y="753.9" textLength="114" lengthAdjust="spacingAndGlyphs">10- MRI TEKNİK</text>
<text x="1668" y="775.8" textLength="155" lengthAdjust="spacingAndGlyphs">11- KONTROL ODASI</text>
<text x="1668" y="797.7" textLength="100" lengthAdjust="spacingAndGlyphs">12- CT ODASI</text>
<text x="1668" y="819.6" textLength="189" lengthAdjust="spacingAndGlyphs">13- KEMİK DENSTOMETRİ</text>
<text x="1668" y="841.4" textLength="125" lengthAdjust="spacingAndGlyphs">14- X-RAY ODASI</text>
<text x="1668" y="863.3" textLength="188" lengthAdjust="spacingAndGlyphs">15- RADYOLOJİ BEKLEME</text>
<text x="1668" y="885.2" textLength="54" lengthAdjust="spacingAndGlyphs">16- WC</text>
<text x="1668" y="907.1" textLength="68" lengthAdjust="spacingAndGlyphs">17- GİRİŞ</text>
<text x="1668" y="929" textLength="62" lengthAdjust="spacingAndGlyphs">18- OFİS</text>
<text x="1668" y="950.8" textLength="90" lengthAdjust="spacingAndGlyphs">19- ECZANE</text>
<text x="1668" y="972.7" textLength="112" lengthAdjust="spacingAndGlyphs">20- POLİKİNLİK</text>
<text x="1668" y="994.6" textLength="243" lengthAdjust="spacingAndGlyphs">21- POLİKİNLİK (KADIN DOĞUM)</text>
<text x="1668" y="1016.5" textLength="141" lengthAdjust="spacingAndGlyphs">22- LABORATUVAR</text>
<text x="1668" y="1038.4" textLength="152" lengthAdjust="spacingAndGlyphs">23- HASTA BEKLEME</text>
<text x="1668" y="1060.2" textLength="181" lengthAdjust="spacingAndGlyphs">24- MOMOGRAFİ ODASI</text>
<text x="1668" y="1082.1" textLength="181" lengthAdjust="spacingAndGlyphs">25- POLİKİNLİK (ÇOCUK)</text>
<text x="1668" y="1104" textLength="163" lengthAdjust="spacingAndGlyphs">26- KAN ALMA ODASI</text>
<text x="1668" y="1125.9" textLength="221" lengthAdjust="spacingAndGlyphs">27- HASTA BEKLEME (ÇOCUK)</text>
<text x="1668" y="1147.8" textLength="128" lengthAdjust="spacingAndGlyphs">28- TEKNİK ALAN</text>
<text x="1668" y="1169.6" textLength="67" lengthAdjust="spacingAndGlyphs">29- KAFE</text>
<text x="1668" y="1191.5" textLength="119" lengthAdjust="spacingAndGlyphs">30-YEMEKHANE</text>
<text x="1668" y="1213.4" textLength="91" lengthAdjust="spacingAndGlyphs">31- MUTFAK</text>
<text x="1668" y="1235.3" textLength="71" lengthAdjust="spacingAndGlyphs">32- DEPO</text>
<text x="1668" y="1257.2" textLength="202" lengthAdjust="spacingAndGlyphs">33- PANOROMİK ASANSÖR</text>
<text x="1668" y="1279" textLength="86" lengthAdjust="spacingAndGlyphs">34- İÇ AVLU</text>
<text x="1668" y="1300.9" textLength="95" lengthAdjust="spacingAndGlyphs">35- DÜKKAN</text>
<text x="1668" y="1322.8" textLength="175" lengthAdjust="spacingAndGlyphs">36- TASARIM DIŞI ALAN</text>
</g>
<text x="34" y="1320" style="font-size:25px" textLength="212" lengthAdjust="spacingAndGlyphs">ZEMİN KAT PLANI</text>
</svg>
</body></html>
